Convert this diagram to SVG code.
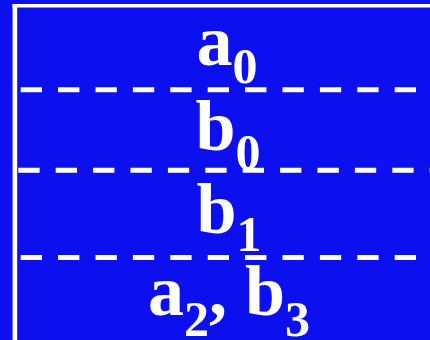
<svg xmlns="http://www.w3.org/2000/svg" width="430" height="340" viewBox="0 0 430 340">
<style>
.lbl{font-family:"Liberation Serif","Times New Roman",serif;font-weight:bold;font-size:72px;fill:#fff;text-anchor:middle}
.sub{font-size:50px}
.dash{stroke:#fff;stroke-width:5;stroke-dasharray:21.3 16.1;fill:none}
.frame{stroke:#fff;fill:none}
</style>
<rect x="0" y="0" width="430" height="340" fill="#0c10ee"/>
<g id="frame">
<line class="frame" x1="12.5" y1="5.8" x2="430" y2="5.8" stroke-width="3.6"/>
<line class="frame" x1="14.9" y1="4" x2="14.9" y2="340" stroke-width="4.6"/>
</g>
<g id="cell-a0"><text class="lbl" x="227" y="65">a<tspan class="sub" dy="18">0</tspan></text></g>
<g id="cell-b0"><text class="lbl" x="228" y="150">b<tspan class="sub" dy="19">0</tspan></text></g>
<g id="cell-b1"><text class="lbl" x="229" y="233">b<tspan class="sub" dy="18">1</tspan></text></g>
<g id="cell-a2b3"><text class="lbl" x="229" y="314.5">a<tspan class="sub" dy="21">2</tspan><tspan dy="-21">, b</tspan><tspan class="sub" dy="21">3</tspan></text></g>
<g id="connectors">
<line class="dash" x1="20.7" y1="89.8" x2="430" y2="89.8"/>
<line class="dash" x1="18.3" y1="170.2" x2="430" y2="170.2"/>
<line class="dash" x1="20.7" y1="257.5" x2="430" y2="257.5"/>
</g>
</svg>
